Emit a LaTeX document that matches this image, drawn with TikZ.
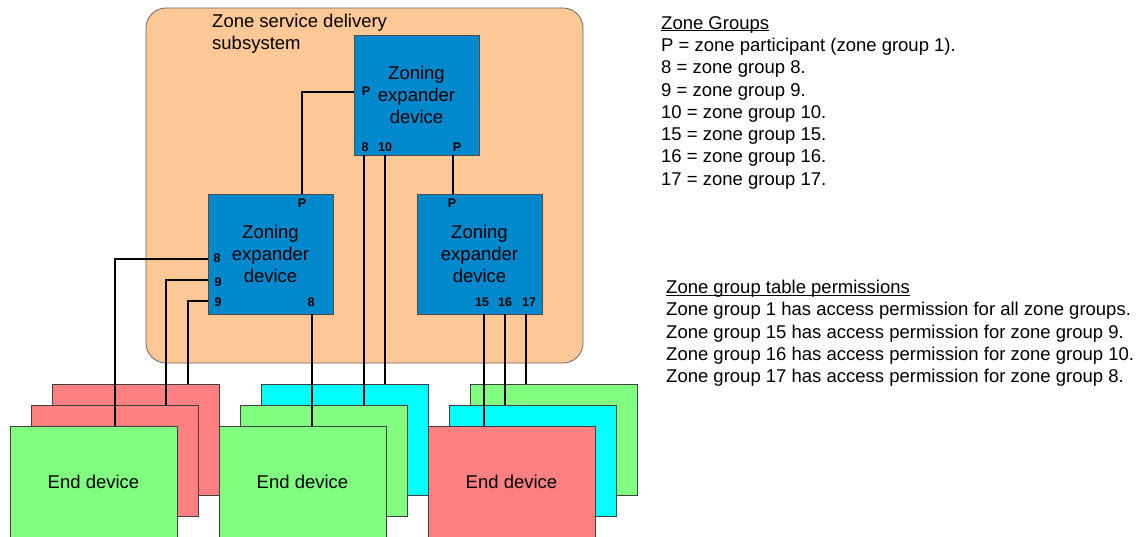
\documentclass[tikz,border=0pt]{standalone}
\usepackage{fontspec}
\setmainfont{Liberation Sans}
\definecolor{peach}{RGB}{255,200,150}
\definecolor{zblue}{RGB}{0,136,204}
\definecolor{cred}{RGB}{255,128,128}
\definecolor{cgreen}{RGB}{128,255,128}
\definecolor{ccyan}{RGB}{0,255,255}
\newcommand\myul[1]{\setbox0\hbox{#1}\rlap{\rule[-2.2pt]{\wd0}{0.9pt}}\box0}
\tikzset{
  zonebox/.style={draw=black!60, fill=peach, rounded corners=20, line width=0.8, minimum width=437, minimum height=355, inner sep=0},
  zed/.style={draw=black!70, fill=zblue, line width=0.7, minimum width=125, minimum height=120, inner sep=0, align=center, font=\fontsize{18.5}{22}\selectfont},
  card/.style={draw=black!75, line width=0.6, minimum width=167, minimum height=111, inner sep=0, font=\fontsize{18.5}{22}\selectfont},
  port/.style={font=\fontsize{12.5}{14}\selectfont\bfseries, inner sep=0},
  wire/.style={line width=1.3, black},
  legend/.style={anchor=north west, align=left, inner sep=0, font=\fontsize{18.5}{22.3}\selectfont}
}
\begin{document}
\begin{tikzpicture}[x=1pt,y=-1pt]
\useasboundingbox (0,0) rectangle (1138,537);
% subsystem
\node[zonebox] (zone) at (364.5,185.5) {};
\node[legend, anchor=north west] (ztitle) at (212,14) {Zone service delivery\\subsystem};
% expanders
\node[zed] (zt) at (416.5,95) {Zoning\\expander\\device};
\node[zed] (zl) at (270.5,254) {Zoning\\expander\\device};
\node[zed] (zr) at (479.5,254) {Zoning\\expander\\device};
% port labels
\node[port] (ltP1) at (366,91) {P};
\node[port] (lt8) at (365,147) {8};
\node[port] (lt10) at (385,147) {10};
\node[port] (ltP2) at (457,147) {P};
\node[port] (llP) at (302,203) {P};
\node[port] (ll8a) at (217,258) {8};
\node[port] (ll9a) at (218,282) {9};
\node[port] (ll9b) at (218,302) {9};
\node[port] (ll8b) at (311,302) {8};
\node[port] (lrP) at (452,203) {P};
\node[port] (lr15) at (482,302) {15};
\node[port] (lr16) at (505,302) {16};
\node[port] (lr17) at (529,302) {17};
% end devices
\node[card, fill=cred] (g1c) at (135.5,439.5) {};
\node[card, fill=cred] (g1b) at (114.5,460.5) {};
\node[card, fill=cgreen] (g1a) at (93.5,481.5) {End device};
\node[card, fill=ccyan] (g2c) at (344.5,439.5) {};
\node[card, fill=cgreen] (g2b) at (323.5,460.5) {};
\node[card, fill=cgreen] (g2a) at (302.5,481.5) {End device};
\node[card, fill=cgreen] (g3c) at (553.5,439.5) {};
\node[card, fill=ccyan] (g3b) at (532.5,460.5) {};
\node[card, fill=cred] (g3a) at (511.5,481.5) {End device};
% port coordinates
\coordinate (ztPw) at (zt.west |- 0,92);
\coordinate (ztPs) at (453,155);
\coordinate (zt8) at (364,155);
\coordinate (zt10) at (385,155);
\coordinate (zlPn) at (302,194);
\coordinate (zrPn) at (453,194);
\coordinate (zl8w) at (208,259);
\coordinate (zl9w) at (208,280);
\coordinate (zl9bw) at (208,301);
\coordinate (zl8s) at (312,314);
\coordinate (zr15) at (484,314);
\coordinate (zr16) at (505,314);
\coordinate (zr17) at (526,314);
\coordinate (g1ain) at (115,426);
\coordinate (g1bin) at (166,405);
\coordinate (g1cin) at (188,384);
\coordinate (g2ain) at (312,426);
\coordinate (g2bin) at (364,405);
\coordinate (g2cin) at (385,384);
\coordinate (g3ain) at (484,426);
\coordinate (g3bin) at (505,405);
\coordinate (g3cin) at (526,384);
% wires
\draw[wire] (ztPw) -| (zlPn);
\draw[wire] (ztPs) -- (zrPn);
\draw[wire] (zt8) -- (g2bin);
\draw[wire] (zt10) -- (g2cin);
\draw[wire] (zl8w) -| (g1ain);
\draw[wire] (zl9w) -| (g1bin);
\draw[wire] (zl9bw) -| (g1cin);
\draw[wire] (zl8s) -- (g2ain);
\draw[wire] (zr15) -- (g3ain);
\draw[wire] (zr16) -- (g3bin);
\draw[wire] (zr17) -- (g3cin);
% legends
\node[legend] (groups) at (661,16) {\myul{Zone Groups}\\P = zone participant (zone group 1).\\8 = zone group 8.\\9 = zone group 9.\\10 = zone group 10.\\15 = zone group 15.\\16 = zone group 16.\\17 = zone group 17.};
\node[legend] (perms) at (666,280) {\myul{Zone group table permissions}\\Zone group 1 has access permission for all zone groups.\\Zone group 15 has access permission for zone group 9.\\Zone group 16 has access permission for zone group 10.\\Zone group 17 has access permission for zone group 8.};
\end{tikzpicture}
\end{document}
